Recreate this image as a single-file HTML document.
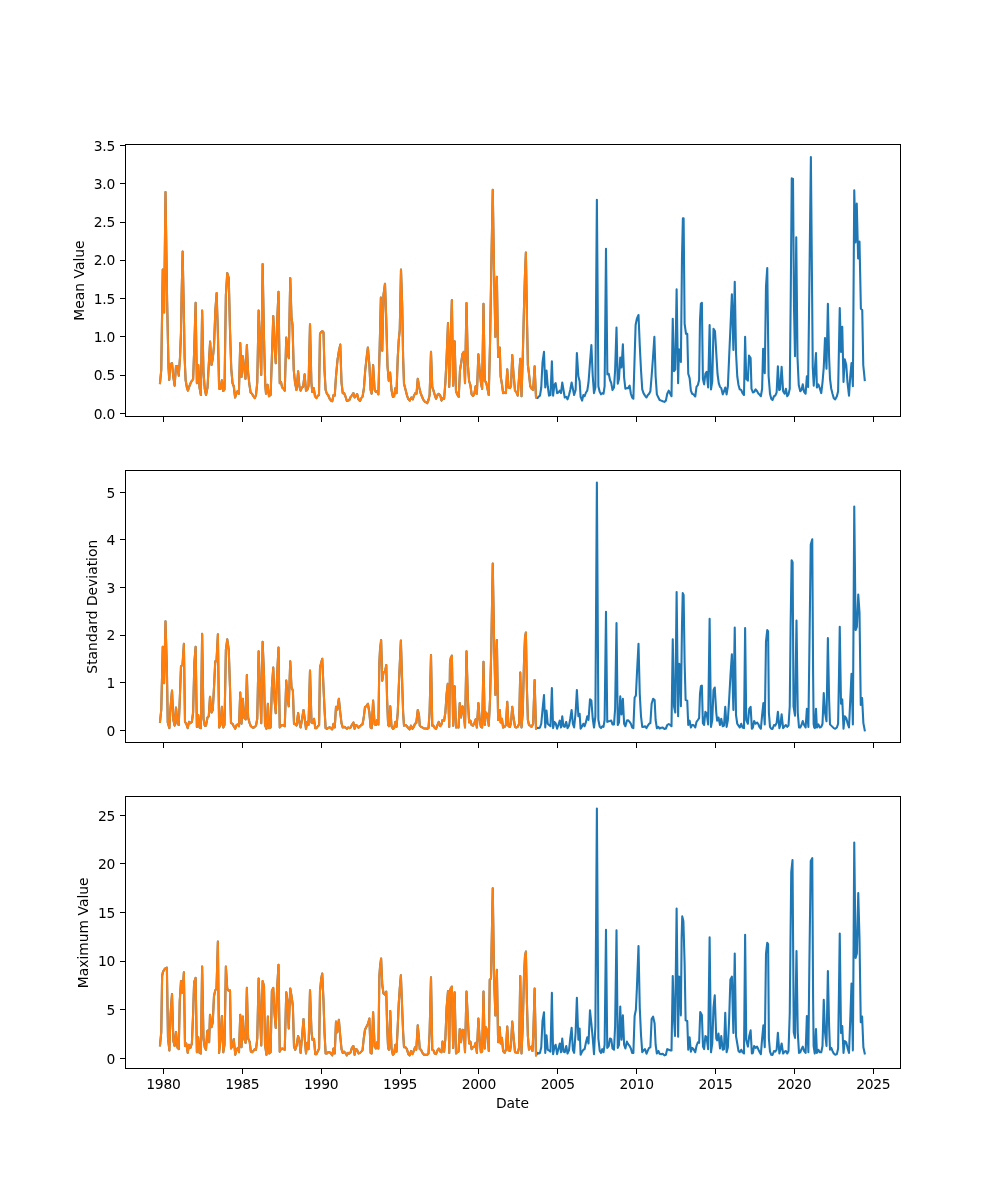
<!DOCTYPE html>
<html><head><meta charset="utf-8"><title>Figure</title>
<style>
html,body{margin:0;padding:0;background:#fff;}
svg{display:block;will-change:transform;}
text{font-family:"DejaVu Sans","Liberation Sans",sans-serif;font-size:13.89px;fill:#000;}
.tl{letter-spacing:-0.3px;}
.sp{stroke:#000;stroke-width:1.11;fill:none;shape-rendering:crispEdges;}
.tk{stroke:#000;stroke-width:1.11;shape-rendering:crispEdges;}
.ln{fill:none;stroke-width:2.08;stroke-linejoin:round;stroke-linecap:square;}
</style></head><body>
<svg width="1000" height="1200" viewBox="0 0 1000 1200">
<rect x="0" y="0" width="1000" height="1200" fill="#ffffff"/>
<g id="ax1">
<polyline class="ln" stroke="#1f77b4" points="160.00,383.12 161.25,370.00 162.75,269.50 164.12,312.50 165.50,192.00 167.12,301.25 168.50,367.50 169.25,380.00 170.25,363.75 171.00,366.25 172.00,363.12 173.25,376.25 174.62,385.62 176.00,366.25 177.50,366.00 178.75,375.62 180.00,357.50 181.00,332.50 181.62,295.00 182.62,251.62 183.75,307.50 184.62,357.50 185.62,380.00 186.88,387.50 187.88,390.62 189.38,386.25 190.62,383.12 192.00,380.62 193.12,379.38 194.38,345.00 195.62,302.75 196.88,383.12 198.25,365.00 199.50,387.50 200.88,395.00 202.12,310.62 203.50,372.50 204.75,388.75 206.00,395.00 207.50,387.50 208.75,365.00 210.12,341.50 211.50,365.00 212.75,358.75 214.00,346.25 215.38,310.00 216.62,293.12 217.88,332.50 219.12,388.75 220.50,388.75 221.88,380.25 223.25,391.00 224.50,389.38 225.88,295.00 227.25,273.12 228.75,278.12 230.00,330.00 231.25,368.75 232.50,383.12 233.75,386.25 235.12,397.50 236.38,393.75 237.62,391.00 238.88,393.75 240.25,343.12 241.50,376.88 242.88,356.25 244.12,367.50 245.50,378.75 246.88,345.00 248.12,372.50 249.38,384.38 250.62,392.50 252.00,393.75 253.38,396.25 254.75,398.12 256.00,395.00 257.25,382.50 258.62,310.62 260.00,345.00 261.25,375.00 262.62,264.12 264.00,338.75 265.25,385.00 266.00,393.75 267.50,384.75 269.00,396.25 270.62,395.00 271.88,357.50 273.25,316.00 274.50,345.00 275.75,363.12 277.12,322.50 278.50,291.88 279.75,383.12 281.00,381.88 282.12,387.50 283.50,388.75 284.75,390.62 286.25,337.50 287.50,352.50 288.75,358.12 290.25,278.12 291.50,317.50 292.50,325.00 293.75,370.00 295.00,382.50 296.50,390.00 298.12,371.25 299.38,386.25 300.62,390.62 301.88,387.50 303.12,386.88 304.62,374.38 306.00,390.62 307.25,390.00 308.50,386.25 310.00,324.38 311.38,382.50 312.25,391.88 313.75,388.12 315.00,396.25 316.50,398.12 317.88,395.62 319.00,395.00 320.00,333.75 321.25,331.88 322.50,331.25 323.50,332.50 324.50,370.00 325.62,390.00 326.88,393.75 328.12,395.00 329.62,398.75 331.00,400.62 332.25,401.25 333.50,395.00 334.75,395.62 336.00,376.25 337.50,360.00 338.88,351.25 340.25,344.62 341.50,382.50 342.75,393.12 344.12,393.12 345.38,396.25 346.88,401.00 348.12,400.62 349.38,400.00 350.62,396.88 351.88,395.62 353.38,393.12 354.62,397.50 355.88,396.25 357.12,394.00 358.50,399.38 360.00,401.00 361.25,398.12 362.50,396.88 363.88,388.75 365.25,370.00 366.62,357.50 367.88,347.50 369.38,365.00 370.62,390.00 371.62,393.75 373.12,365.00 374.62,390.00 375.88,391.88 377.12,391.25 378.38,394.38 379.75,345.00 380.88,297.50 382.25,350.62 383.50,295.00 385.00,283.75 386.25,320.00 387.50,366.25 388.75,380.62 390.12,372.50 391.50,390.00 392.88,396.88 394.12,396.25 395.38,388.12 396.50,393.12 397.75,357.50 398.75,340.00 399.75,330.00 401.00,269.50 402.25,307.50 403.12,357.50 404.00,383.75 405.62,390.00 406.88,395.00 408.12,398.75 409.75,400.62 411.25,397.50 412.75,399.38 414.00,395.62 415.25,393.12 416.50,393.75 417.75,378.75 419.25,387.50 420.62,393.12 421.88,396.25 423.12,399.38 424.62,401.50 426.00,402.25 427.25,403.12 428.50,400.00 429.62,395.00 431.00,351.88 432.25,386.88 433.50,390.62 434.75,395.00 436.00,398.75 437.50,395.00 438.75,393.75 440.25,395.62 441.50,400.62 442.75,398.12 444.12,398.75 445.38,382.50 446.62,357.50 448.00,323.12 449.25,386.88 450.62,340.00 451.88,300.00 453.12,385.62 454.62,341.25 456.00,391.25 457.25,394.38 458.75,396.88 460.00,370.00 461.25,362.50 462.50,353.75 463.75,351.88 465.00,383.12 466.50,303.12 467.88,365.00 469.12,381.25 470.38,385.00 471.62,394.38 473.12,396.00 474.38,393.75 475.62,386.25 476.88,393.75 478.38,354.38 479.62,370.00 480.88,382.50 482.12,388.75 483.50,303.75 484.75,381.25 486.00,381.88 487.50,388.75 488.75,395.00 490.00,345.00 491.38,263.75 492.75,189.88 494.00,270.00 495.38,336.88 496.88,276.88 498.12,356.88 499.75,347.50 500.62,376.25 501.88,383.75 503.12,393.12 504.62,392.50 505.88,393.12 507.25,369.38 508.50,387.50 510.00,388.12 511.00,386.25 512.25,355.00 513.50,373.75 515.00,390.62 516.25,391.88 517.75,395.62 519.12,376.25 520.25,358.75 521.50,396.25 522.75,357.50 524.00,307.50 525.00,273.75 525.88,252.62 527.12,326.25 527.88,365.00 529.00,373.75 530.25,386.25 531.62,388.75 533.12,390.00 534.62,366.25 536.00,397.50 537.50,398.12 538.75,396.50 540.00,395.62 541.25,387.50 542.50,362.50 544.00,351.88 545.25,387.50 546.50,370.62 547.75,386.25 549.00,395.62 550.50,395.00 551.88,361.25 553.12,395.62 554.38,385.00 555.62,383.12 557.12,393.12 558.38,392.50 559.75,390.62 561.00,393.12 562.25,382.50 563.50,390.00 564.75,397.50 566.25,396.88 567.50,399.38 569.00,395.00 570.25,390.00 571.62,382.50 572.88,388.75 574.12,395.00 575.62,390.00 576.88,353.12 578.38,376.25 579.62,381.25 580.62,396.88 582.12,400.62 583.38,395.00 584.62,396.25 586.00,392.50 587.25,390.62 588.50,382.50 590.00,362.50 591.38,345.00 592.75,376.25 594.00,393.12 595.38,387.50 596.88,199.75 598.38,386.25 599.75,391.88 601.00,394.38 602.25,393.12 603.50,393.75 604.62,386.25 606.00,248.75 607.38,374.38 608.75,373.75 610.00,380.00 611.25,383.12 612.50,390.00 614.00,387.50 615.12,370.00 616.50,327.50 617.75,383.75 619.00,378.75 620.25,357.50 621.50,367.50 622.88,344.38 624.12,377.50 625.38,388.75 626.88,388.12 628.12,388.12 629.62,385.62 630.88,393.75 632.12,397.50 633.38,398.75 634.62,357.50 635.62,325.00 636.88,318.75 638.50,315.00 639.75,345.00 641.00,370.00 642.25,389.38 643.50,393.12 645.00,395.62 646.50,397.50 647.88,395.00 649.12,393.75 650.38,391.25 651.62,376.25 653.00,357.50 654.38,336.88 655.62,376.25 656.88,394.38 658.38,397.50 659.62,400.00 661.25,400.62 662.75,401.25 664.38,401.88 665.88,400.62 667.25,393.75 668.75,390.62 670.25,393.75 671.50,396.25 672.75,318.75 674.00,371.25 675.25,369.38 676.62,289.38 678.12,383.12 679.00,349.38 680.00,350.00 680.88,361.88 682.00,257.50 682.88,218.25 683.62,218.25 684.62,323.75 686.00,333.75 687.25,333.75 688.25,373.75 689.62,378.12 690.88,390.62 692.12,393.75 693.50,394.38 695.25,396.50 696.50,386.88 697.88,385.00 699.12,380.00 700.00,320.00 700.88,303.75 701.88,302.75 702.88,378.75 704.12,384.38 705.38,373.75 706.62,371.88 708.12,387.50 709.62,325.00 711.00,389.38 712.25,381.25 713.50,328.75 715.00,331.25 716.25,352.50 717.50,373.75 718.75,383.12 720.00,386.88 721.25,388.12 722.75,394.38 724.00,391.25 725.25,387.50 726.62,394.38 727.88,386.25 729.12,357.50 730.50,326.25 731.88,294.38 733.38,350.00 734.75,281.88 736.00,352.50 737.25,376.25 738.50,385.00 739.75,389.38 741.25,390.00 742.50,393.12 744.00,395.00 745.12,336.88 746.25,378.75 747.88,380.62 749.00,355.62 750.62,358.12 751.50,388.75 752.88,392.50 754.12,391.88 755.62,389.38 757.12,391.25 758.50,393.75 759.38,394.38 760.88,396.25 762.12,388.75 763.12,348.75 764.75,373.12 766.00,286.25 767.25,268.00 768.62,376.25 770.00,393.75 771.25,398.75 772.50,400.00 774.00,396.25 775.25,395.62 776.62,392.50 777.88,366.25 779.12,390.00 780.12,389.38 781.62,366.88 783.12,391.25 784.62,393.75 785.88,388.75 787.25,396.25 788.50,394.38 789.75,388.75 790.75,295.00 791.75,178.38 793.00,179.00 794.00,307.50 795.00,356.25 796.25,237.38 797.50,357.50 798.75,385.00 800.25,391.25 801.50,390.00 802.75,384.38 804.12,391.88 805.62,393.75 806.88,376.25 808.12,386.88 809.38,282.50 810.88,157.00 812.12,295.00 812.75,367.50 813.75,385.62 814.75,370.00 816.00,353.12 816.88,387.50 818.38,384.38 819.75,388.12 821.25,393.12 822.50,382.50 823.75,367.50 825.00,338.12 826.50,368.75 827.88,303.75 829.12,357.50 830.00,378.75 831.25,388.75 832.50,393.75 833.75,398.12 835.25,399.38 836.88,396.25 838.12,391.25 839.00,345.00 839.75,308.12 841.00,351.88 842.25,326.88 843.50,381.88 844.75,359.38 846.25,365.00 847.50,382.50 849.00,395.62 850.25,376.25 851.50,363.12 852.88,386.25 854.25,190.38 855.50,242.38 856.75,203.50 858.12,258.38 859.50,241.62 860.88,308.75 862.25,310.00 863.25,365.00 864.75,380.00"/>
<polyline class="ln" stroke="#ff7f0e" points="160.00,383.12 161.25,370.00 162.75,269.50 164.12,312.50 165.50,192.00 167.12,301.25 168.50,367.50 169.25,380.00 170.25,363.75 171.00,366.25 172.00,363.12 173.25,376.25 174.62,385.62 176.00,366.25 177.50,366.00 178.75,375.62 180.00,357.50 181.00,332.50 181.62,295.00 182.62,251.62 183.75,307.50 184.62,357.50 185.62,380.00 186.88,387.50 187.88,390.62 189.38,386.25 190.62,383.12 192.00,380.62 193.12,379.38 194.38,345.00 195.62,302.75 196.88,383.12 198.25,365.00 199.50,387.50 200.88,395.00 202.12,310.62 203.50,372.50 204.75,388.75 206.00,395.00 207.50,387.50 208.75,365.00 210.12,341.50 211.50,365.00 212.75,358.75 214.00,346.25 215.38,310.00 216.62,293.12 217.88,332.50 219.12,388.75 220.50,388.75 221.88,380.25 223.25,391.00 224.50,389.38 225.88,295.00 227.25,273.12 228.75,278.12 230.00,330.00 231.25,368.75 232.50,383.12 233.75,386.25 235.12,397.50 236.38,393.75 237.62,391.00 238.88,393.75 240.25,343.12 241.50,376.88 242.88,356.25 244.12,367.50 245.50,378.75 246.88,345.00 248.12,372.50 249.38,384.38 250.62,392.50 252.00,393.75 253.38,396.25 254.75,398.12 256.00,395.00 257.25,382.50 258.62,310.62 260.00,345.00 261.25,375.00 262.62,264.12 264.00,338.75 265.25,385.00 266.00,393.75 267.50,384.75 269.00,396.25 270.62,395.00 271.88,357.50 273.25,316.00 274.50,345.00 275.75,363.12 277.12,322.50 278.50,291.88 279.75,383.12 281.00,381.88 282.12,387.50 283.50,388.75 284.75,390.62 286.25,337.50 287.50,352.50 288.75,358.12 290.25,278.12 291.50,317.50 292.50,325.00 293.75,370.00 295.00,382.50 296.50,390.00 298.12,371.25 299.38,386.25 300.62,390.62 301.88,387.50 303.12,386.88 304.62,374.38 306.00,390.62 307.25,390.00 308.50,386.25 310.00,324.38 311.38,382.50 312.25,391.88 313.75,388.12 315.00,396.25 316.50,398.12 317.88,395.62 319.00,395.00 320.00,333.75 321.25,331.88 322.50,331.25 323.50,332.50 324.50,370.00 325.62,390.00 326.88,393.75 328.12,395.00 329.62,398.75 331.00,400.62 332.25,401.25 333.50,395.00 334.75,395.62 336.00,376.25 337.50,360.00 338.88,351.25 340.25,344.62 341.50,382.50 342.75,393.12 344.12,393.12 345.38,396.25 346.88,401.00 348.12,400.62 349.38,400.00 350.62,396.88 351.88,395.62 353.38,393.12 354.62,397.50 355.88,396.25 357.12,394.00 358.50,399.38 360.00,401.00 361.25,398.12 362.50,396.88 363.88,388.75 365.25,370.00 366.62,357.50 367.88,347.50 369.38,365.00 370.62,390.00 371.62,393.75 373.12,365.00 374.62,390.00 375.88,391.88 377.12,391.25 378.38,394.38 379.75,345.00 380.88,297.50 382.25,350.62 383.50,295.00 385.00,283.75 386.25,320.00 387.50,366.25 388.75,380.62 390.12,372.50 391.50,390.00 392.88,396.88 394.12,396.25 395.38,388.12 396.50,393.12 397.75,357.50 398.75,340.00 399.75,330.00 401.00,269.50 402.25,307.50 403.12,357.50 404.00,383.75 405.62,390.00 406.88,395.00 408.12,398.75 409.75,400.62 411.25,397.50 412.75,399.38 414.00,395.62 415.25,393.12 416.50,393.75 417.75,378.75 419.25,387.50 420.62,393.12 421.88,396.25 423.12,399.38 424.62,401.50 426.00,402.25 427.25,403.12 428.50,400.00 429.62,395.00 431.00,351.88 432.25,386.88 433.50,390.62 434.75,395.00 436.00,398.75 437.50,395.00 438.75,393.75 440.25,395.62 441.50,400.62 442.75,398.12 444.12,398.75 445.38,382.50 446.62,357.50 448.00,323.12 449.25,386.88 450.62,340.00 451.88,300.00 453.12,385.62 454.62,341.25 456.00,391.25 457.25,394.38 458.75,396.88 460.00,370.00 461.25,362.50 462.50,353.75 463.75,351.88 465.00,383.12 466.50,303.12 467.88,365.00 469.12,381.25 470.38,385.00 471.62,394.38 473.12,396.00 474.38,393.75 475.62,386.25 476.88,393.75 478.38,354.38 479.62,370.00 480.88,382.50 482.12,388.75 483.50,303.75 484.75,381.25 486.00,381.88 487.50,388.75 488.75,395.00 490.00,345.00 491.38,263.75 492.75,189.88 494.00,270.00 495.38,336.88 496.88,276.88 498.12,356.88 499.75,347.50 500.62,376.25 501.88,383.75 503.12,393.12 504.62,392.50 505.88,393.12 507.25,369.38 508.50,387.50 510.00,388.12 511.00,386.25 512.25,355.00 513.50,373.75 515.00,390.62 516.25,391.88 517.75,395.62 519.12,376.25 520.25,358.75 521.50,396.25 522.75,357.50 524.00,307.50 525.00,273.75 525.88,252.62 527.12,326.25 527.88,365.00 529.00,373.75 530.25,386.25 531.62,388.75 533.12,390.00 534.62,366.25 536.00,397.50"/>
<rect class="sp" x="125.5" y="144.5" width="775.0" height="272.0"/>
<line class="tk" x1="120.30" x2="125.5" y1="413.5" y2="413.5"/><text class="tl" x="115.0" y="418.70" text-anchor="end">0.0</text>
<line class="tk" x1="120.30" x2="125.5" y1="375.5" y2="375.5"/><text class="tl" x="115.0" y="380.43" text-anchor="end">0.5</text>
<line class="tk" x1="120.30" x2="125.5" y1="336.5" y2="336.5"/><text class="tl" x="115.0" y="342.15" text-anchor="end">1.0</text>
<line class="tk" x1="120.30" x2="125.5" y1="298.5" y2="298.5"/><text class="tl" x="115.0" y="303.88" text-anchor="end">1.5</text>
<line class="tk" x1="120.30" x2="125.5" y1="260.5" y2="260.5"/><text class="tl" x="115.0" y="264.70" text-anchor="end">2.0</text>
<line class="tk" x1="120.30" x2="125.5" y1="222.5" y2="222.5"/><text class="tl" x="115.0" y="227.32" text-anchor="end">2.5</text>
<line class="tk" x1="120.30" x2="125.5" y1="183.5" y2="183.5"/><text class="tl" x="115.0" y="189.05" text-anchor="end">3.0</text>
<line class="tk" x1="120.30" x2="125.5" y1="145.5" y2="145.5"/><text class="tl" x="115.0" y="150.77" text-anchor="end">3.5</text>
<line class="tk" x1="163.5" x2="163.5" y1="416.5" y2="421.50"/><line class="tk" x1="242.5" x2="242.5" y1="416.5" y2="421.50"/><line class="tk" x1="321.5" x2="321.5" y1="416.5" y2="421.50"/><line class="tk" x1="400.5" x2="400.5" y1="416.5" y2="421.50"/><line class="tk" x1="478.5" x2="478.5" y1="416.5" y2="421.50"/><line class="tk" x1="557.5" x2="557.5" y1="416.5" y2="421.50"/><line class="tk" x1="636.5" x2="636.5" y1="416.5" y2="421.50"/><line class="tk" x1="715.5" x2="715.5" y1="416.5" y2="421.50"/><line class="tk" x1="794.5" x2="794.5" y1="416.5" y2="421.50"/><line class="tk" x1="873.5" x2="873.5" y1="416.5" y2="421.50"/>
<text transform="translate(83.7,280.58) rotate(-90)" text-anchor="middle">Mean Value</text>
</g>
<g id="ax2">
<polyline class="ln" stroke="#1f77b4" points="160.00,721.88 161.25,710.00 162.75,646.88 164.12,683.12 165.50,621.25 166.88,668.75 167.75,722.50 169.38,728.12 170.62,706.25 172.00,690.62 173.38,720.00 174.62,725.62 176.00,707.50 177.50,723.75 178.75,725.00 180.00,693.75 181.00,666.25 182.50,665.00 183.88,643.75 185.00,721.88 186.25,723.75 187.75,728.12 189.00,721.88 190.38,723.12 191.88,721.88 193.12,712.50 194.38,662.50 195.62,646.88 196.88,726.88 198.25,715.00 199.50,727.50 200.88,728.12 202.12,633.75 203.50,718.75 204.75,725.62 206.00,725.62 207.50,717.50 208.75,716.25 210.00,696.88 211.50,712.50 212.75,710.00 214.00,687.50 215.25,661.25 216.50,661.25 217.88,634.38 219.12,727.50 220.50,725.00 221.88,706.88 223.25,727.50 224.50,725.00 225.88,650.00 227.25,639.38 228.75,650.00 230.00,687.50 231.00,723.12 232.50,723.75 233.75,726.25 235.25,728.75 236.62,725.00 237.88,724.38 239.00,726.25 240.25,692.50 241.50,723.75 242.88,698.75 244.12,717.50 245.62,719.38 246.88,675.00 248.12,717.50 249.62,723.12 250.88,726.25 252.12,727.25 253.38,727.75 254.75,726.88 256.00,725.62 257.25,718.75 258.62,651.25 260.00,687.50 261.25,723.12 262.62,641.88 264.00,675.00 265.00,725.00 266.50,728.75 267.88,703.75 269.12,728.12 270.62,727.50 271.88,687.50 273.25,667.50 274.50,700.00 275.75,713.12 277.12,675.00 278.50,647.50 279.75,727.50 281.00,725.62 282.25,725.00 283.50,725.62 284.75,726.25 286.25,680.62 287.50,698.75 288.75,706.25 290.25,661.25 291.50,687.50 292.88,690.62 294.00,723.75 295.25,724.38 296.50,725.62 298.12,713.12 299.38,722.50 300.62,727.50 301.88,720.00 303.50,710.00 304.75,718.75 306.00,728.75 307.25,721.88 308.50,725.00 310.00,670.62 311.50,722.50 312.75,723.12 314.00,718.75 315.25,728.12 316.50,728.12 317.88,726.25 319.12,725.00 320.00,667.50 321.25,662.50 322.25,658.75 323.50,687.50 324.50,708.75 325.62,728.12 326.88,728.75 328.12,728.12 329.38,727.25 330.88,728.12 332.25,729.38 333.50,723.75 334.75,727.50 336.00,706.88 337.25,710.00 338.88,698.75 340.25,712.50 341.50,723.12 342.75,727.50 344.12,726.88 345.38,727.50 346.88,728.75 348.12,727.50 349.38,728.12 350.62,727.50 351.88,725.00 353.38,722.50 354.62,728.75 355.88,725.00 357.12,725.62 358.50,727.75 360.00,726.25 361.25,725.00 362.50,724.38 363.75,717.50 365.00,706.88 366.50,706.25 367.88,703.75 369.38,712.50 370.62,727.50 371.62,728.12 373.12,700.62 374.62,724.38 375.88,725.00 377.12,720.00 378.38,724.38 379.38,662.50 380.00,650.00 381.12,640.00 382.25,680.62 383.50,672.50 385.00,671.88 386.25,665.00 387.12,700.00 388.12,725.00 389.00,726.25 390.25,706.25 391.50,726.25 392.88,728.75 394.12,728.12 395.38,721.88 396.50,726.88 397.75,712.50 398.75,687.50 399.75,665.00 400.88,640.62 402.12,681.25 403.12,712.50 404.00,725.62 405.62,725.00 406.88,726.25 408.38,728.12 409.75,729.38 411.00,725.62 412.50,728.75 413.75,726.88 415.00,723.75 416.25,723.12 417.75,710.00 419.00,715.00 419.75,725.62 421.00,726.88 422.50,727.50 424.00,728.50 425.62,728.50 427.25,728.75 428.50,728.12 429.62,712.50 431.00,655.00 432.25,725.62 433.50,725.62 434.75,728.12 436.00,728.75 437.50,725.00 438.75,721.88 440.25,726.25 441.50,724.38 442.50,720.00 444.12,720.62 445.38,712.50 446.62,693.75 447.75,683.75 449.25,726.88 450.00,662.50 450.88,657.50 451.88,655.62 453.12,725.62 454.62,686.25 456.00,727.50 457.25,726.88 458.50,727.50 459.75,703.12 461.00,717.50 462.50,706.25 463.75,712.50 465.00,727.50 466.50,651.25 467.88,700.00 469.12,722.50 470.38,720.62 471.62,725.00 472.88,725.62 474.38,723.12 475.62,719.38 476.88,727.50 478.38,703.12 479.62,718.75 480.88,726.88 482.12,727.50 483.50,661.88 484.75,725.00 486.00,712.50 487.50,715.00 488.75,725.62 490.00,700.00 491.25,650.00 492.75,563.62 494.00,637.50 495.38,695.00 496.88,640.00 498.12,720.00 499.75,710.00 500.62,722.50 501.88,718.75 503.12,727.50 504.62,726.88 505.88,725.00 507.25,701.88 508.50,726.25 510.00,726.88 511.00,722.50 512.25,706.88 513.50,717.50 515.00,726.88 516.25,727.50 517.75,726.88 519.12,723.75 520.25,672.50 521.50,727.50 522.75,712.50 524.00,662.50 525.00,637.50 525.88,632.50 526.88,687.50 527.88,720.00 529.00,725.00 530.25,725.62 531.62,726.88 533.12,723.75 534.62,680.00 536.00,728.75 537.50,727.75 538.75,728.12 540.00,727.50 541.25,723.75 542.50,710.00 544.00,695.00 545.25,727.50 546.50,710.62 547.75,723.75 549.00,725.00 550.50,726.25 551.88,688.12 553.12,728.12 554.38,721.88 555.62,723.12 557.12,728.75 558.38,725.00 559.75,720.62 561.00,727.50 562.25,716.25 563.50,726.25 564.75,726.88 566.25,721.88 567.50,728.12 569.00,725.62 570.25,718.75 571.62,710.00 572.88,723.75 574.12,727.50 575.62,712.50 576.88,690.00 578.38,716.25 579.62,713.75 580.62,728.75 582.12,726.25 583.38,723.75 584.62,726.25 586.00,721.88 587.25,716.25 588.50,720.00 590.00,699.38 591.38,700.62 592.75,718.75 594.00,727.50 595.38,716.25 596.88,482.62 598.38,720.00 599.75,726.88 601.00,728.12 602.25,726.25 603.50,726.88 604.62,720.00 606.00,611.88 607.25,721.88 608.75,721.25 610.00,721.00 611.25,720.62 612.50,724.38 614.00,724.38 615.12,708.75 616.50,623.12 617.75,725.00 619.00,722.50 620.25,696.25 621.50,714.38 622.88,698.75 624.12,723.75 625.38,726.25 626.88,720.62 628.12,720.25 629.62,721.88 630.88,723.75 632.12,727.50 633.38,728.12 634.62,697.50 635.88,695.62 636.88,675.00 638.50,643.75 639.75,693.75 641.00,716.25 642.25,726.88 643.50,726.88 645.00,726.25 646.50,728.12 647.88,725.62 649.12,723.75 650.38,723.12 651.62,703.75 653.12,698.75 654.62,700.00 655.62,720.00 656.88,728.12 658.38,726.88 659.62,728.50 661.25,727.75 662.75,727.50 664.38,729.00 665.88,728.50 667.25,725.00 668.75,724.00 670.25,725.00 671.50,726.25 672.75,639.38 674.00,706.25 675.25,712.50 676.62,592.12 678.12,716.25 679.00,663.75 680.00,665.00 680.88,706.25 682.00,625.00 682.75,593.12 683.62,595.00 684.62,662.50 685.62,700.00 687.25,700.62 688.25,725.00 689.62,720.62 690.88,727.50 692.12,725.00 693.50,725.00 695.25,727.50 696.50,721.88 697.88,720.00 699.12,718.12 700.00,693.75 700.88,686.25 701.88,685.62 702.88,723.12 704.12,725.00 705.38,711.88 706.62,713.12 708.12,724.38 709.62,618.75 711.00,726.88 712.25,720.00 713.50,690.00 714.75,687.50 716.25,712.50 717.12,720.62 718.50,717.50 720.00,725.00 721.25,718.75 722.75,726.25 724.00,725.62 725.25,706.88 726.62,726.88 727.88,720.00 729.12,700.00 730.50,675.00 731.88,654.38 733.38,710.00 734.75,627.50 736.00,715.00 737.25,723.75 738.50,725.62 739.75,727.50 741.25,723.75 742.50,727.50 744.00,728.12 745.12,628.12 746.25,720.00 747.88,723.75 749.25,708.75 750.62,706.88 751.88,728.75 752.88,727.50 754.12,721.00 755.62,723.75 757.12,722.50 758.50,724.38 759.38,726.88 760.88,728.75 762.12,715.00 763.38,703.12 764.75,724.38 766.00,641.25 767.25,630.00 768.12,631.25 768.88,712.50 770.00,726.88 771.25,728.75 772.50,729.00 774.00,725.00 775.25,725.62 776.62,723.12 777.88,711.88 779.38,728.12 780.38,725.00 781.62,714.38 783.12,728.12 784.62,726.25 785.88,725.00 787.25,726.88 788.50,725.62 789.75,706.25 790.62,625.00 791.62,560.25 792.62,562.50 793.50,706.25 795.00,715.62 796.50,620.62 797.75,712.50 799.00,727.50 800.25,727.50 801.50,725.00 802.75,721.00 804.12,725.00 805.62,727.50 806.88,708.75 808.38,726.88 809.38,650.00 810.75,544.50 812.25,539.25 813.12,675.00 813.62,723.75 814.25,727.50 814.88,728.12 816.00,708.75 816.88,727.50 818.38,724.38 819.75,727.50 821.25,726.88 822.50,723.75 823.75,693.12 825.00,712.50 826.50,721.25 827.88,638.12 829.12,700.00 830.00,724.38 831.25,725.62 832.50,726.88 833.75,728.12 835.25,728.75 836.88,727.50 838.12,723.75 839.00,675.00 839.75,626.88 841.00,703.75 842.25,699.38 843.50,728.75 844.75,716.25 846.25,718.12 847.50,723.12 849.00,727.50 850.25,700.00 851.50,673.75 852.88,724.38 854.25,506.50 855.62,630.00 856.88,626.88 858.25,594.50 859.50,612.50 860.75,705.00 862.12,698.12 863.38,723.12 864.75,730.38"/>
<polyline class="ln" stroke="#ff7f0e" points="160.00,721.88 161.25,710.00 162.75,646.88 164.12,683.12 165.50,621.25 166.88,668.75 167.75,722.50 169.38,728.12 170.62,706.25 172.00,690.62 173.38,720.00 174.62,725.62 176.00,707.50 177.50,723.75 178.75,725.00 180.00,693.75 181.00,666.25 182.50,665.00 183.88,643.75 185.00,721.88 186.25,723.75 187.75,728.12 189.00,721.88 190.38,723.12 191.88,721.88 193.12,712.50 194.38,662.50 195.62,646.88 196.88,726.88 198.25,715.00 199.50,727.50 200.88,728.12 202.12,633.75 203.50,718.75 204.75,725.62 206.00,725.62 207.50,717.50 208.75,716.25 210.00,696.88 211.50,712.50 212.75,710.00 214.00,687.50 215.25,661.25 216.50,661.25 217.88,634.38 219.12,727.50 220.50,725.00 221.88,706.88 223.25,727.50 224.50,725.00 225.88,650.00 227.25,639.38 228.75,650.00 230.00,687.50 231.00,723.12 232.50,723.75 233.75,726.25 235.25,728.75 236.62,725.00 237.88,724.38 239.00,726.25 240.25,692.50 241.50,723.75 242.88,698.75 244.12,717.50 245.62,719.38 246.88,675.00 248.12,717.50 249.62,723.12 250.88,726.25 252.12,727.25 253.38,727.75 254.75,726.88 256.00,725.62 257.25,718.75 258.62,651.25 260.00,687.50 261.25,723.12 262.62,641.88 264.00,675.00 265.00,725.00 266.50,728.75 267.88,703.75 269.12,728.12 270.62,727.50 271.88,687.50 273.25,667.50 274.50,700.00 275.75,713.12 277.12,675.00 278.50,647.50 279.75,727.50 281.00,725.62 282.25,725.00 283.50,725.62 284.75,726.25 286.25,680.62 287.50,698.75 288.75,706.25 290.25,661.25 291.50,687.50 292.88,690.62 294.00,723.75 295.25,724.38 296.50,725.62 298.12,713.12 299.38,722.50 300.62,727.50 301.88,720.00 303.50,710.00 304.75,718.75 306.00,728.75 307.25,721.88 308.50,725.00 310.00,670.62 311.50,722.50 312.75,723.12 314.00,718.75 315.25,728.12 316.50,728.12 317.88,726.25 319.12,725.00 320.00,667.50 321.25,662.50 322.25,658.75 323.50,687.50 324.50,708.75 325.62,728.12 326.88,728.75 328.12,728.12 329.38,727.25 330.88,728.12 332.25,729.38 333.50,723.75 334.75,727.50 336.00,706.88 337.25,710.00 338.88,698.75 340.25,712.50 341.50,723.12 342.75,727.50 344.12,726.88 345.38,727.50 346.88,728.75 348.12,727.50 349.38,728.12 350.62,727.50 351.88,725.00 353.38,722.50 354.62,728.75 355.88,725.00 357.12,725.62 358.50,727.75 360.00,726.25 361.25,725.00 362.50,724.38 363.75,717.50 365.00,706.88 366.50,706.25 367.88,703.75 369.38,712.50 370.62,727.50 371.62,728.12 373.12,700.62 374.62,724.38 375.88,725.00 377.12,720.00 378.38,724.38 379.38,662.50 380.00,650.00 381.12,640.00 382.25,680.62 383.50,672.50 385.00,671.88 386.25,665.00 387.12,700.00 388.12,725.00 389.00,726.25 390.25,706.25 391.50,726.25 392.88,728.75 394.12,728.12 395.38,721.88 396.50,726.88 397.75,712.50 398.75,687.50 399.75,665.00 400.88,640.62 402.12,681.25 403.12,712.50 404.00,725.62 405.62,725.00 406.88,726.25 408.38,728.12 409.75,729.38 411.00,725.62 412.50,728.75 413.75,726.88 415.00,723.75 416.25,723.12 417.75,710.00 419.00,715.00 419.75,725.62 421.00,726.88 422.50,727.50 424.00,728.50 425.62,728.50 427.25,728.75 428.50,728.12 429.62,712.50 431.00,655.00 432.25,725.62 433.50,725.62 434.75,728.12 436.00,728.75 437.50,725.00 438.75,721.88 440.25,726.25 441.50,724.38 442.50,720.00 444.12,720.62 445.38,712.50 446.62,693.75 447.75,683.75 449.25,726.88 450.00,662.50 450.88,657.50 451.88,655.62 453.12,725.62 454.62,686.25 456.00,727.50 457.25,726.88 458.50,727.50 459.75,703.12 461.00,717.50 462.50,706.25 463.75,712.50 465.00,727.50 466.50,651.25 467.88,700.00 469.12,722.50 470.38,720.62 471.62,725.00 472.88,725.62 474.38,723.12 475.62,719.38 476.88,727.50 478.38,703.12 479.62,718.75 480.88,726.88 482.12,727.50 483.50,661.88 484.75,725.00 486.00,712.50 487.50,715.00 488.75,725.62 490.00,700.00 491.25,650.00 492.75,563.62 494.00,637.50 495.38,695.00 496.88,640.00 498.12,720.00 499.75,710.00 500.62,722.50 501.88,718.75 503.12,727.50 504.62,726.88 505.88,725.00 507.25,701.88 508.50,726.25 510.00,726.88 511.00,722.50 512.25,706.88 513.50,717.50 515.00,726.88 516.25,727.50 517.75,726.88 519.12,723.75 520.25,672.50 521.50,727.50 522.75,712.50 524.00,662.50 525.00,637.50 525.88,632.50 526.88,687.50 527.88,720.00 529.00,725.00 530.25,725.62 531.62,726.88 533.12,723.75 534.62,680.00 536.00,728.75"/>
<rect class="sp" x="125.5" y="470.5" width="775.0" height="272.0"/>
<line class="tk" x1="120.30" x2="125.5" y1="730.5" y2="730.5"/><text class="tl" x="115.0" y="735.50" text-anchor="end">0</text>
<line class="tk" x1="120.30" x2="125.5" y1="682.5" y2="682.5"/><text class="tl" x="115.0" y="687.90" text-anchor="end">1</text>
<line class="tk" x1="120.30" x2="125.5" y1="635.5" y2="635.5"/><text class="tl" x="115.0" y="640.30" text-anchor="end">2</text>
<line class="tk" x1="120.30" x2="125.5" y1="587.5" y2="587.5"/><text class="tl" x="115.0" y="592.70" text-anchor="end">3</text>
<line class="tk" x1="120.30" x2="125.5" y1="539.5" y2="539.5"/><text class="tl" x="115.0" y="545.10" text-anchor="end">4</text>
<line class="tk" x1="120.30" x2="125.5" y1="492.5" y2="492.5"/><text class="tl" x="115.0" y="497.50" text-anchor="end">5</text>
<line class="tk" x1="163.5" x2="163.5" y1="742.5" y2="747.50"/><line class="tk" x1="242.5" x2="242.5" y1="742.5" y2="747.50"/><line class="tk" x1="321.5" x2="321.5" y1="742.5" y2="747.50"/><line class="tk" x1="400.5" x2="400.5" y1="742.5" y2="747.50"/><line class="tk" x1="478.5" x2="478.5" y1="742.5" y2="747.50"/><line class="tk" x1="557.5" x2="557.5" y1="742.5" y2="747.50"/><line class="tk" x1="636.5" x2="636.5" y1="742.5" y2="747.50"/><line class="tk" x1="715.5" x2="715.5" y1="742.5" y2="747.50"/><line class="tk" x1="794.5" x2="794.5" y1="742.5" y2="747.50"/><line class="tk" x1="873.5" x2="873.5" y1="742.5" y2="747.50"/>
<text transform="translate(96.9,606.70) rotate(-90)" text-anchor="middle">Standard Deviation</text>
</g>
<g id="ax3">
<polyline class="ln" stroke="#1f77b4" points="160.00,1045.38 161.25,1032.25 162.12,976.00 162.88,972.25 164.12,969.75 165.50,968.25 166.88,967.62 168.00,1038.50 169.38,1050.38 170.62,1013.50 172.00,994.12 173.38,1041.00 174.62,1046.00 176.00,1032.00 177.50,1047.88 178.75,1049.12 179.75,1001.00 181.00,981.00 182.50,992.88 183.88,972.25 185.00,1046.00 186.25,1043.50 187.75,1052.88 189.00,1044.75 190.38,1047.88 191.88,1043.50 193.12,1013.50 194.12,982.25 195.62,977.88 196.88,1052.25 198.25,1037.25 199.50,1052.88 200.88,1053.50 202.12,966.62 203.50,1038.50 204.75,1047.25 206.00,1049.75 207.25,1031.00 208.12,1030.38 209.12,1042.25 210.00,1014.75 211.50,1027.25 212.75,1022.25 214.00,996.00 215.25,990.38 216.50,988.50 217.88,941.62 219.12,1052.88 220.50,1038.50 221.88,1016.00 223.25,1052.25 224.50,1044.75 225.88,966.62 227.25,988.50 228.75,991.00 230.00,990.38 231.00,1048.50 232.50,1046.00 233.75,1039.12 235.25,1054.75 236.62,1049.12 237.88,1047.88 239.00,1052.25 240.25,1014.75 241.50,1047.25 242.88,1016.62 244.12,1038.50 245.62,1042.88 246.88,987.88 248.12,1038.50 249.62,1041.62 250.88,1051.62 252.12,1052.25 253.38,1051.00 254.75,1049.12 256.00,1049.75 257.25,1038.50 258.62,978.50 260.00,1013.50 261.25,1045.38 262.62,981.00 264.00,986.00 265.00,1044.75 266.50,1054.75 267.88,1016.62 269.12,1053.50 270.62,1052.25 271.88,991.00 273.25,987.88 274.50,1013.50 275.75,1027.88 277.12,988.50 278.50,964.75 279.75,1051.62 281.00,1049.12 282.25,1048.50 283.50,1049.12 284.75,1049.75 286.25,992.25 287.50,1001.00 288.75,1028.50 290.25,988.50 291.50,996.00 292.88,1006.00 294.00,1046.62 295.25,1049.75 296.50,1046.00 298.12,1036.00 299.38,1041.00 300.62,1052.88 301.88,1038.50 303.50,1019.12 304.75,1038.50 306.00,1053.50 307.25,1042.88 308.50,1049.12 310.00,990.38 311.50,1032.25 312.50,1039.75 314.00,1039.12 315.25,1054.12 316.50,1054.12 317.88,1051.00 319.12,1048.50 320.00,991.00 321.25,978.50 322.25,973.50 323.50,1001.00 324.50,1032.25 325.62,1053.50 326.88,1053.50 328.12,1052.25 329.38,1052.00 330.88,1053.50 332.25,1055.38 333.50,1048.50 334.75,1053.50 336.00,1021.62 337.25,1032.25 338.88,1019.75 340.25,1036.00 341.50,1049.12 342.75,1052.88 344.12,1051.62 345.38,1052.88 346.88,1055.38 348.12,1052.88 349.38,1053.50 350.62,1052.25 351.88,1047.88 353.38,1046.00 354.62,1054.75 355.88,1049.12 357.12,1049.75 358.50,1053.50 360.00,1052.88 361.25,1051.62 362.50,1050.38 363.75,1038.50 365.00,1029.75 366.50,1026.62 368.12,1023.50 369.38,1018.50 370.62,1052.88 371.62,1053.50 373.12,1012.25 374.62,1046.62 375.88,1048.50 377.12,1042.25 378.38,1048.50 379.38,976.00 380.00,967.25 381.12,958.50 382.25,984.75 383.50,993.50 385.00,994.75 386.25,991.62 387.12,1026.00 388.12,1048.50 389.00,1049.75 390.25,1011.00 391.50,1048.50 392.88,1054.75 394.12,1053.50 395.38,1044.75 396.50,1051.62 397.75,1026.00 398.75,1003.50 399.75,988.50 400.88,975.38 402.12,1007.25 403.12,1032.25 404.00,1047.25 405.62,1047.25 406.88,1049.12 408.38,1054.12 409.75,1055.38 411.00,1051.00 412.50,1054.12 413.75,1051.00 415.00,1047.25 416.25,1049.75 417.75,1025.38 419.00,1038.50 419.75,1049.12 421.00,1049.75 422.50,1052.88 424.00,1054.75 425.62,1054.75 427.25,1054.75 428.50,1053.50 429.62,1032.25 431.00,977.25 432.25,1049.75 433.50,1050.38 434.75,1053.50 436.00,1054.12 437.50,1050.38 438.75,1048.50 440.25,1051.62 441.50,1052.25 442.50,1041.62 444.12,1051.62 445.38,1038.50 446.62,1007.25 448.00,991.00 449.25,1052.88 450.00,991.00 450.88,987.88 451.88,986.62 453.12,1047.88 454.62,992.25 456.00,1053.50 457.25,1052.25 458.50,1051.62 459.75,1029.12 461.00,1042.25 462.50,1029.75 463.75,1030.38 465.00,1052.25 466.50,991.62 467.88,1019.75 469.12,1043.50 470.38,1041.62 471.62,1049.12 472.88,1047.25 474.38,1046.62 475.62,1042.88 476.88,1052.88 478.38,1018.50 479.62,1038.50 480.88,1052.25 482.12,1051.62 483.50,991.62 484.75,1048.50 486.00,1027.25 487.50,1032.25 488.75,1051.00 489.75,979.75 491.00,978.50 492.75,888.25 494.00,976.00 495.38,1015.38 496.88,969.75 498.12,1042.25 499.75,1027.25 500.62,1043.50 501.88,1037.88 503.12,1051.00 504.62,1052.88 505.88,1049.75 507.25,1026.62 508.50,1050.38 510.00,1051.00 511.00,1044.75 512.25,1021.62 513.50,1036.00 515.00,1052.25 516.25,1052.50 517.75,1052.88 519.12,1047.25 520.25,976.00 521.50,1053.50 522.75,1026.00 524.00,976.00 525.00,956.00 525.88,951.62 526.88,1001.00 527.88,1036.00 529.00,1049.75 530.25,1047.88 531.62,1046.62 532.50,1051.00 533.38,1032.25 534.62,988.50 536.00,1055.38 537.50,1052.88 538.75,1053.50 540.00,1052.88 541.25,1047.25 542.50,1021.00 544.00,1012.25 545.25,1052.88 546.50,1035.38 547.75,1049.75 549.00,1050.38 550.50,1051.62 551.88,992.88 553.12,1054.12 554.38,1047.25 555.62,1044.75 557.12,1054.12 558.38,1049.12 559.75,1043.50 561.00,1052.25 562.25,1038.50 563.50,1051.62 564.75,1052.25 566.25,1046.00 567.50,1053.50 569.00,1050.38 570.25,1038.50 571.62,1027.88 572.88,1049.75 574.12,1052.88 575.62,1032.25 576.88,997.88 578.38,1039.75 579.62,1028.50 580.62,1054.75 582.12,1051.62 583.38,1049.75 584.62,1049.12 586.00,1042.25 587.25,1037.25 588.50,1043.50 590.00,1010.38 591.38,1023.50 592.75,1038.50 594.00,1054.12 595.38,1026.00 596.88,808.50 598.38,1038.50 599.75,1051.00 601.00,1052.88 602.25,1049.12 603.50,1052.25 604.62,1044.75 606.00,929.75 607.25,1047.88 608.75,1046.00 610.00,1038.50 611.25,1039.12 612.50,1048.50 614.00,1049.75 615.12,1026.00 616.50,930.38 617.75,1047.88 619.00,1044.75 620.25,1006.62 621.50,1039.75 622.88,1015.38 624.12,1044.75 625.38,1048.50 626.88,1041.62 628.12,1044.12 629.62,1046.00 630.88,1048.50 632.12,1052.88 633.38,1052.88 634.62,1016.00 635.88,1009.75 636.88,988.50 638.50,946.00 639.75,1007.25 641.00,1034.75 642.25,1052.25 643.50,1050.38 645.00,1049.12 646.50,1053.75 647.88,1050.38 649.12,1047.88 650.38,1047.25 651.62,1019.12 653.12,1016.62 654.62,1023.50 655.62,1044.75 656.88,1053.50 658.38,1051.00 659.62,1053.75 661.25,1054.12 662.75,1053.75 664.38,1055.38 665.88,1054.75 667.25,1049.12 668.75,1049.75 670.25,1050.38 671.50,1050.38 672.75,976.00 674.00,1019.75 675.00,1036.00 676.62,908.62 678.12,1036.62 679.00,976.62 680.00,977.25 680.88,1015.38 681.62,938.50 682.25,916.38 683.38,921.00 684.62,963.50 685.62,1020.38 687.25,1021.00 688.25,1049.75 689.62,1037.25 690.88,1051.62 692.12,1047.88 693.50,1049.12 695.25,1052.25 696.50,1046.00 697.88,1042.25 699.12,1042.88 700.25,1012.00 701.88,1015.00 703.00,1046.62 704.12,1049.12 705.38,1036.00 706.62,1037.25 708.12,1049.12 709.62,937.25 711.00,1052.25 712.25,1043.50 713.50,1007.25 714.75,995.38 716.25,1038.50 717.12,1040.38 718.50,1033.50 720.00,1048.50 721.25,1036.00 722.75,1049.75 724.00,1049.12 725.25,1012.88 726.62,1052.25 727.88,1047.25 729.12,1019.75 730.38,979.75 731.88,976.62 733.38,1032.88 734.75,953.50 736.00,1036.00 737.25,1043.50 738.50,1051.00 739.75,1052.25 741.25,1049.75 742.50,1052.25 744.00,1053.50 745.12,934.75 746.25,1039.75 747.88,1046.62 749.25,1036.00 750.62,1030.38 751.88,1053.50 752.88,1052.88 754.12,1046.00 755.62,1047.88 757.12,1046.62 758.50,1049.75 759.38,1051.62 760.88,1054.12 762.12,1038.50 763.38,1025.38 764.75,1047.25 766.00,953.50 767.25,942.88 768.12,944.12 768.88,1038.50 770.00,1051.62 771.25,1054.75 772.50,1055.00 774.00,1051.00 775.25,1051.62 776.62,1049.75 777.88,1032.88 779.38,1053.50 780.38,1049.75 781.62,1043.50 783.12,1053.50 784.62,1051.62 785.88,1051.00 787.25,1053.50 788.50,1051.00 789.75,1013.50 790.50,938.50 791.25,872.00 792.50,860.00 793.75,1032.25 795.00,1037.88 796.50,951.00 797.75,1032.25 799.00,1052.88 800.25,1052.25 801.50,1049.12 802.75,1046.62 804.12,1051.00 805.62,1052.88 806.88,1016.00 808.38,1052.25 809.38,963.50 810.75,861.00 812.25,858.12 813.12,1001.00 813.62,1046.00 814.75,1053.50 816.00,1029.12 816.88,1052.88 818.38,1049.75 819.75,1052.25 821.25,1052.25 822.50,1046.00 823.75,999.75 825.00,1032.25 826.50,1046.00 827.88,971.00 829.12,1026.00 830.00,1049.75 831.25,1047.88 832.50,1051.00 833.75,1053.50 835.25,1054.75 836.88,1054.12 838.12,1048.50 839.00,988.50 839.75,933.50 841.00,1032.88 842.25,1026.00 843.50,1052.88 844.75,1041.00 846.25,1042.25 847.50,1047.88 849.00,1052.88 850.25,1019.75 851.50,983.50 852.88,1050.38 854.25,842.50 855.62,957.88 856.88,953.50 858.25,893.00 859.50,938.50 860.75,1022.25 862.12,1016.62 863.38,1047.25 864.75,1053.50"/>
<polyline class="ln" stroke="#ff7f0e" points="160.00,1045.38 161.25,1032.25 162.12,976.00 162.88,972.25 164.12,969.75 165.50,968.25 166.88,967.62 168.00,1038.50 169.38,1050.38 170.62,1013.50 172.00,994.12 173.38,1041.00 174.62,1046.00 176.00,1032.00 177.50,1047.88 178.75,1049.12 179.75,1001.00 181.00,981.00 182.50,992.88 183.88,972.25 185.00,1046.00 186.25,1043.50 187.75,1052.88 189.00,1044.75 190.38,1047.88 191.88,1043.50 193.12,1013.50 194.12,982.25 195.62,977.88 196.88,1052.25 198.25,1037.25 199.50,1052.88 200.88,1053.50 202.12,966.62 203.50,1038.50 204.75,1047.25 206.00,1049.75 207.25,1031.00 208.12,1030.38 209.12,1042.25 210.00,1014.75 211.50,1027.25 212.75,1022.25 214.00,996.00 215.25,990.38 216.50,988.50 217.88,941.62 219.12,1052.88 220.50,1038.50 221.88,1016.00 223.25,1052.25 224.50,1044.75 225.88,966.62 227.25,988.50 228.75,991.00 230.00,990.38 231.00,1048.50 232.50,1046.00 233.75,1039.12 235.25,1054.75 236.62,1049.12 237.88,1047.88 239.00,1052.25 240.25,1014.75 241.50,1047.25 242.88,1016.62 244.12,1038.50 245.62,1042.88 246.88,987.88 248.12,1038.50 249.62,1041.62 250.88,1051.62 252.12,1052.25 253.38,1051.00 254.75,1049.12 256.00,1049.75 257.25,1038.50 258.62,978.50 260.00,1013.50 261.25,1045.38 262.62,981.00 264.00,986.00 265.00,1044.75 266.50,1054.75 267.88,1016.62 269.12,1053.50 270.62,1052.25 271.88,991.00 273.25,987.88 274.50,1013.50 275.75,1027.88 277.12,988.50 278.50,964.75 279.75,1051.62 281.00,1049.12 282.25,1048.50 283.50,1049.12 284.75,1049.75 286.25,992.25 287.50,1001.00 288.75,1028.50 290.25,988.50 291.50,996.00 292.88,1006.00 294.00,1046.62 295.25,1049.75 296.50,1046.00 298.12,1036.00 299.38,1041.00 300.62,1052.88 301.88,1038.50 303.50,1019.12 304.75,1038.50 306.00,1053.50 307.25,1042.88 308.50,1049.12 310.00,990.38 311.50,1032.25 312.50,1039.75 314.00,1039.12 315.25,1054.12 316.50,1054.12 317.88,1051.00 319.12,1048.50 320.00,991.00 321.25,978.50 322.25,973.50 323.50,1001.00 324.50,1032.25 325.62,1053.50 326.88,1053.50 328.12,1052.25 329.38,1052.00 330.88,1053.50 332.25,1055.38 333.50,1048.50 334.75,1053.50 336.00,1021.62 337.25,1032.25 338.88,1019.75 340.25,1036.00 341.50,1049.12 342.75,1052.88 344.12,1051.62 345.38,1052.88 346.88,1055.38 348.12,1052.88 349.38,1053.50 350.62,1052.25 351.88,1047.88 353.38,1046.00 354.62,1054.75 355.88,1049.12 357.12,1049.75 358.50,1053.50 360.00,1052.88 361.25,1051.62 362.50,1050.38 363.75,1038.50 365.00,1029.75 366.50,1026.62 368.12,1023.50 369.38,1018.50 370.62,1052.88 371.62,1053.50 373.12,1012.25 374.62,1046.62 375.88,1048.50 377.12,1042.25 378.38,1048.50 379.38,976.00 380.00,967.25 381.12,958.50 382.25,984.75 383.50,993.50 385.00,994.75 386.25,991.62 387.12,1026.00 388.12,1048.50 389.00,1049.75 390.25,1011.00 391.50,1048.50 392.88,1054.75 394.12,1053.50 395.38,1044.75 396.50,1051.62 397.75,1026.00 398.75,1003.50 399.75,988.50 400.88,975.38 402.12,1007.25 403.12,1032.25 404.00,1047.25 405.62,1047.25 406.88,1049.12 408.38,1054.12 409.75,1055.38 411.00,1051.00 412.50,1054.12 413.75,1051.00 415.00,1047.25 416.25,1049.75 417.75,1025.38 419.00,1038.50 419.75,1049.12 421.00,1049.75 422.50,1052.88 424.00,1054.75 425.62,1054.75 427.25,1054.75 428.50,1053.50 429.62,1032.25 431.00,977.25 432.25,1049.75 433.50,1050.38 434.75,1053.50 436.00,1054.12 437.50,1050.38 438.75,1048.50 440.25,1051.62 441.50,1052.25 442.50,1041.62 444.12,1051.62 445.38,1038.50 446.62,1007.25 448.00,991.00 449.25,1052.88 450.00,991.00 450.88,987.88 451.88,986.62 453.12,1047.88 454.62,992.25 456.00,1053.50 457.25,1052.25 458.50,1051.62 459.75,1029.12 461.00,1042.25 462.50,1029.75 463.75,1030.38 465.00,1052.25 466.50,991.62 467.88,1019.75 469.12,1043.50 470.38,1041.62 471.62,1049.12 472.88,1047.25 474.38,1046.62 475.62,1042.88 476.88,1052.88 478.38,1018.50 479.62,1038.50 480.88,1052.25 482.12,1051.62 483.50,991.62 484.75,1048.50 486.00,1027.25 487.50,1032.25 488.75,1051.00 489.75,979.75 491.00,978.50 492.75,888.25 494.00,976.00 495.38,1015.38 496.88,969.75 498.12,1042.25 499.75,1027.25 500.62,1043.50 501.88,1037.88 503.12,1051.00 504.62,1052.88 505.88,1049.75 507.25,1026.62 508.50,1050.38 510.00,1051.00 511.00,1044.75 512.25,1021.62 513.50,1036.00 515.00,1052.25 516.25,1052.50 517.75,1052.88 519.12,1047.25 520.25,976.00 521.50,1053.50 522.75,1026.00 524.00,976.00 525.00,956.00 525.88,951.62 526.88,1001.00 527.88,1036.00 529.00,1049.75 530.25,1047.88 531.62,1046.62 532.50,1051.00 533.38,1032.25 534.62,988.50 536.00,1055.38"/>
<rect class="sp" x="125.5" y="796.5" width="775.0" height="272.0"/>
<line class="tk" x1="120.30" x2="125.5" y1="1058.5" y2="1058.5"/><text class="tl" x="115.0" y="1063.70" text-anchor="end">0</text>
<line class="tk" x1="120.30" x2="125.5" y1="1009.5" y2="1009.5"/><text class="tl" x="115.0" y="1015.07" text-anchor="end">5</text>
<line class="tk" x1="120.30" x2="125.5" y1="961.5" y2="961.5"/><text class="tl" x="115.0" y="966.44" text-anchor="end">10</text>
<line class="tk" x1="120.30" x2="125.5" y1="912.5" y2="912.5"/><text class="tl" x="115.0" y="917.81" text-anchor="end">15</text>
<line class="tk" x1="120.30" x2="125.5" y1="863.5" y2="863.5"/><text class="tl" x="115.0" y="869.18" text-anchor="end">20</text>
<line class="tk" x1="120.30" x2="125.5" y1="815.5" y2="815.5"/><text class="tl" x="115.0" y="820.55" text-anchor="end">25</text>
<line class="tk" x1="163.5" x2="163.5" y1="1068.5" y2="1073.50"/><text x="163.40" y="1089" class="tl" text-anchor="middle">1980</text><line class="tk" x1="242.5" x2="242.5" y1="1068.5" y2="1073.50"/><text x="242.30" y="1089" class="tl" text-anchor="middle">1985</text><line class="tk" x1="321.5" x2="321.5" y1="1068.5" y2="1073.50"/><text x="321.15" y="1089" class="tl" text-anchor="middle">1990</text><line class="tk" x1="400.5" x2="400.5" y1="1068.5" y2="1073.50"/><text x="400.00" y="1089" class="tl" text-anchor="middle">1995</text><line class="tk" x1="478.5" x2="478.5" y1="1068.5" y2="1073.50"/><text x="478.86" y="1089" class="tl" text-anchor="middle">2000</text><line class="tk" x1="557.5" x2="557.5" y1="1068.5" y2="1073.50"/><text x="557.76" y="1089" class="tl" text-anchor="middle">2005</text><line class="tk" x1="636.5" x2="636.5" y1="1068.5" y2="1073.50"/><text x="636.61" y="1089" class="tl" text-anchor="middle">2010</text><line class="tk" x1="715.5" x2="715.5" y1="1068.5" y2="1073.50"/><text x="715.46" y="1089" class="tl" text-anchor="middle">2015</text><line class="tk" x1="794.5" x2="794.5" y1="1068.5" y2="1073.50"/><text x="794.32" y="1089" class="tl" text-anchor="middle">2020</text><line class="tk" x1="873.5" x2="873.5" y1="1068.5" y2="1073.50"/><text x="873.21" y="1089" class="tl" text-anchor="middle">2025</text>
<text transform="translate(88.2,932.82) rotate(-90)" text-anchor="middle">Maximum Value</text>
<text x="512.5" y="1107.9" text-anchor="middle">Date</text>
</g>
</svg>
</body></html>
